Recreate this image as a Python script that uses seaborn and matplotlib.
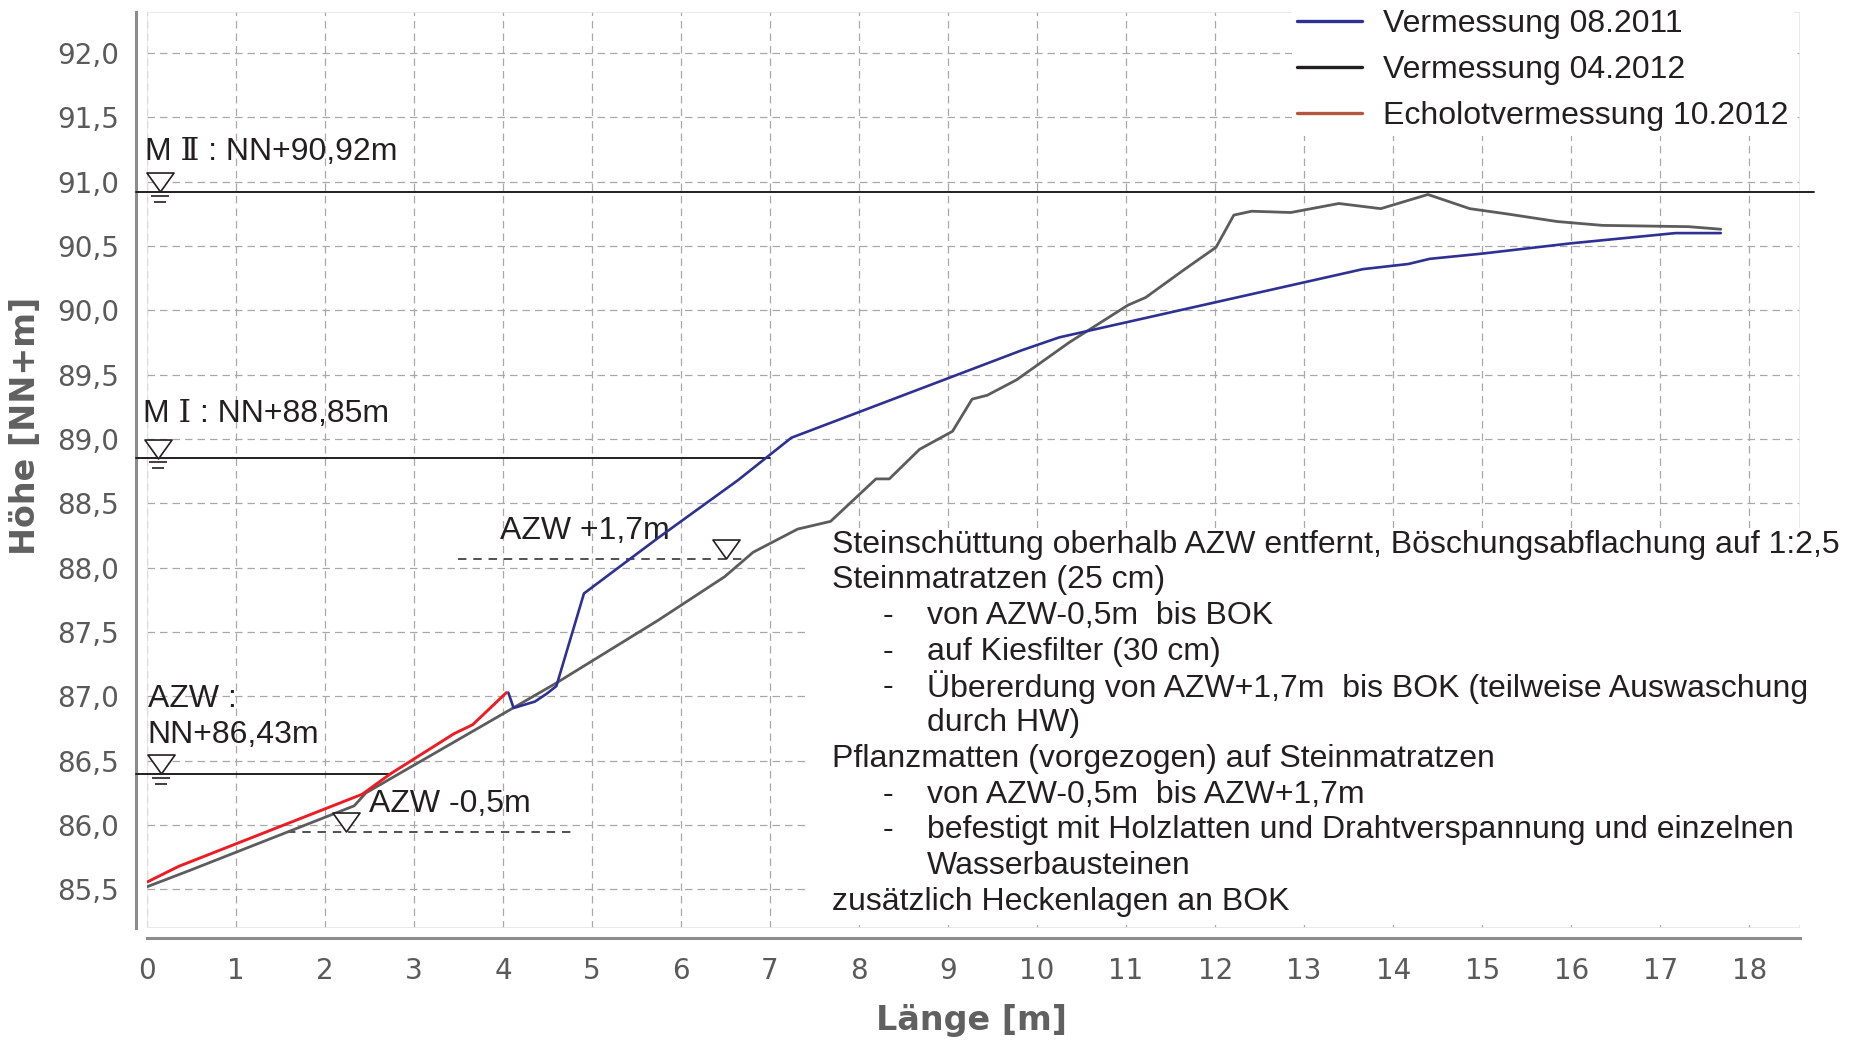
import pandas as pd
import matplotlib
matplotlib.use('Agg')
import matplotlib.pyplot as plt
import seaborn as sns
from matplotlib.lines import Line2D
from matplotlib.path import Path
from matplotlib.patches import Rectangle
from matplotlib.transforms import offset_copy
from matplotlib.ticker import FuncFormatter, MultipleLocator

# --- Daten: Querprofil ---
laenge_2012 = [0.0, 0.49, 2.33, 2.46, 4.59, 5.74, 6.49, 6.81, 7.31, 7.68, 8.19, 8.34, 8.68,
               9.05, 9.27, 9.44, 9.77, 10.36, 11.02, 11.22, 11.66, 12.01, 12.21, 12.41,
               12.85, 13.39, 13.86, 14.39, 14.86, 15.27, 15.84, 16.35, 17.32, 17.68]
hoehe_2012 = [85.52, 85.65, 86.15, 86.25, 87.10, 87.59, 87.93, 88.12, 88.30, 88.36, 88.69, 88.69,
              88.92, 89.06, 89.31, 89.34, 89.46, 89.75, 90.04, 90.10, 90.32, 90.49, 90.74, 90.77,
              90.76, 90.83, 90.79, 90.90, 90.79, 90.75, 90.69, 90.66, 90.65, 90.63]

laenge_2011 = [4.06, 4.12, 4.36, 4.49, 4.60, 4.91, 5.74, 6.64, 7.24, 9.83, 10.25, 13.66, 14.17,
               14.41, 14.99, 15.99, 17.17, 17.68]
hoehe_2011 = [87.03, 86.91, 86.96, 87.02, 87.08, 87.80, 88.23, 88.68, 89.01, 89.69, 89.79, 90.32,
              90.36, 90.40, 90.44, 90.52, 90.60, 90.60]

laenge_echolot = [0.01, 0.36, 2.42, 2.74, 3.45, 3.66, 4.04]
hoehe_echolot = [85.56, 85.68, 86.24, 86.40, 86.71, 86.78, 87.03]

# Wasserspiegel (durchgezogen, mit Symbol und Unterstrichen)
wsp_hoehe = [90.92, 88.85, 86.40]
wsp_bis = [18.73, 7.0, 2.74]
wsp_symbol_x = [0.15, 0.13, 0.16]

# AZW-Hilfslinien (gestrichelt)
azw_hoehe = [85.95, 88.07]
azw_von = [1.58, 3.50]
azw_bis = [4.82, 6.69]
azw_symbol_x = [2.24, 6.51]

legende_namen = ['Vermessung 08.2011', 'Vermessung 04.2012', 'Echolotvermessung 10.2012']
legende_farben = ['#2e3192', '#231f20', '#b5553f']

beschreibung = [
    (0, 'Steinschüttung oberhalb AZW entfernt, Böschungsabflachung auf 1:2,5'),
    (0, 'Steinmatratzen (25 cm)'),
    (1, 'von AZW-0,5m  bis BOK'),
    (1, 'auf Kiesfilter (30 cm)'),
    (1, 'Übererdung von AZW+1,7m  bis BOK (teilweise Auswaschung'),
    (2, 'durch HW)'),
    (0, 'Pflanzmatten (vorgezogen) auf Steinmatratzen'),
    (1, 'von AZW-0,5m  bis AZW+1,7m'),
    (1, 'befestigt mit Holzlatten und Drahtverspannung und einzelnen'),
    (2, 'Wasserbausteinen'),
    (0, 'zusätzlich Heckenlagen an BOK'),
]

df_2012 = pd.DataFrame({'Laenge': laenge_2012, 'Hoehe': hoehe_2012})
df_2011 = pd.DataFrame({'Laenge': laenge_2011, 'Hoehe': hoehe_2011})
df_echo = pd.DataFrame({'Laenge': laenge_echolot, 'Hoehe': hoehe_echolot})

sns.set_style('white')
# Roemische Ziffern (Ⅰ, Ⅱ) fehlen in Liberation Sans -> DejaVu Serif
plt.rcParams['font.family'] = ['Liberation Sans', 'DejaVu Serif']

TXT = '#231f20'
GRAU = '#8c8c8c'
TXT_GR = 23

fig = plt.figure(figsize=(18.54, 10.49), dpi=100)
ax = fig.add_axes([0.0792, 0.1153, 0.8917, 0.8735])

# Linien der Vermessungen
sns.lineplot(data=df_2012, x='Laenge', y='Hoehe', sort=False, estimator=None,
             color='#5c5c5c', linewidth=2.0, ax=ax, zorder=4)
sns.lineplot(data=df_2011, x='Laenge', y='Hoehe', sort=False, estimator=None,
             color='#2e3192', linewidth=1.9, ax=ax, zorder=5)
sns.lineplot(data=df_echo, x='Laenge', y='Hoehe', sort=False, estimator=None,
             color='#ed1c24', linewidth=2.1, ax=ax, zorder=5)

ax.set_xlim(0, 18.57)
ax.set_ylim(85.2, 92.32)
ax.xaxis.set_major_locator(MultipleLocator(1))
ax.yaxis.set_major_locator(MultipleLocator(0.5))
ax.yaxis.set_major_formatter(FuncFormatter(lambda v, p: f'{v:.1f}'.replace('.', ',')))

ax.set_axisbelow(True)
ax.grid(True, color='#a8a8a8', linewidth=0.9, linestyle=(0, (6, 4)))

# Spines wie im Original: links/unten grau und abgesetzt, Rahmen sehr hell
sns.despine(ax=ax, offset={'left': 8, 'bottom': 7})
for s in ['left', 'bottom']:
    ax.spines[s].set_color(GRAU)
    ax.spines[s].set_linewidth(2.2)
ax.add_patch(Rectangle((0, 0), 1, 1, transform=ax.transAxes, fill=False,
                       edgecolor='#e6e6e6', linewidth=1.2, zorder=0.6))

ax.tick_params(axis='both', direction='out', length=4, width=1.6, color=GRAU,
               labelcolor='#5a5a5a', labelsize=20)
ax.tick_params(axis='x', pad=10)
ax.tick_params(axis='y', pad=8)
for lab in ax.get_xticklabels() + ax.get_yticklabels():
    lab.set_fontfamily('DejaVu Sans')

ax.set_xlabel('Länge [m]', fontsize=24, fontweight='bold', color='#606060', family='DejaVu Sans')
ax.set_ylabel('Höhe [NN+m]', fontsize=24, fontweight='bold', color='#606060', family='DejaVu Sans')
ax.xaxis.label.set_va('center')
ax.yaxis.label.set_va('center')
ax.xaxis.set_label_coords(0.499, -0.101)
ax.yaxis.set_label_coords(-0.0734, 0.548)

# Wasserspiegel-Symbol
dreieck = Path([(-0.5, 0.35), (0.5, 0.35), (0.0, -0.35), (-0.5, 0.35)],
               [Path.MOVETO, Path.LINETO, Path.LINETO, Path.CLOSEPOLY])
tr_dreieck = offset_copy(ax.transData, fig=fig, x=0, y=6.8, units='points')
tr_strich1 = offset_copy(ax.transData, fig=fig, x=0, y=-3.0, units='points')
tr_strich2 = offset_copy(ax.transData, fig=fig, x=0, y=-7.3, units='points')


def symbol(x, y, unterstrich):
    ax.plot([x], [y], marker=dreieck, markersize=19.5, markerfacecolor='white',
            markeredgecolor=TXT, markeredgewidth=1.2, linestyle='none',
            transform=tr_dreieck, clip_on=False, zorder=7)
    if unterstrich:
        ax.plot([x], [y], marker='_', markersize=13.5, markeredgewidth=1.2, color=TXT,
                transform=tr_strich1, clip_on=False, zorder=7)
        ax.plot([x], [y], marker='_', markersize=8, markeredgewidth=1.2, color=TXT,
                transform=tr_strich2, clip_on=False, zorder=7)


for h, bis, sx in zip(wsp_hoehe, wsp_bis, wsp_symbol_x):
    ax.plot([-0.12, bis], [h, h], color=TXT, linewidth=1.4, clip_on=False, zorder=3)
    symbol(sx, h, True)

for h, von, bis, sx in zip(azw_hoehe, azw_von, azw_bis, azw_symbol_x):
    ax.plot([von, bis], [h, h], color=TXT, linewidth=1.1, linestyle=(0, (5.5, 4.5)), zorder=3)
    symbol(sx, h, False)

# Beschriftungen der Wasserspiegel
ax.text(-0.02, 91.17, 'M Ⅱ : NN+90,92m', fontsize=TXT_GR, color=TXT, va='baseline')
ax.text(-0.04, 89.13, 'M Ⅰ : NN+88,85m', fontsize=TXT_GR, color=TXT, va='baseline')
ax.text(0.01, 86.92, 'AZW :', fontsize=TXT_GR, color=TXT, va='baseline')
ax.text(0.01, 86.64, 'NN+86,43m', fontsize=TXT_GR, color=TXT, va='baseline')
ax.text(2.49, 86.10, 'AZW -0,5m', fontsize=TXT_GR, color=TXT, va='baseline')
ax.text(3.97, 88.22, 'AZW +1,7m', fontsize=TXT_GR, color=TXT, va='baseline')

# weisser Hintergrund hinter dem Textblock
ax.add_patch(Rectangle((7.42, 85.22), 11.2, 88.31 - 85.22, facecolor='white',
                       edgecolor='none', zorder=1.5))
y0, dy = 88.18, 0.2775
for i, (einzug, zeile) in enumerate(beschreibung):
    y = y0 - i * dy
    if einzug == 0:
        ax.text(7.70, y, zeile, fontsize=TXT_GR, color=TXT, va='center', zorder=6)
    else:
        if einzug == 1:
            ax.text(8.27, y, '-', fontsize=TXT_GR, color=TXT, va='center', zorder=6)
        ax.text(8.76, y, zeile, fontsize=TXT_GR, color=TXT, va='center', zorder=6)

# Legende
griffe = [Line2D([], [], color=c, linewidth=2.4) for c in legende_farben]
leg = fig.legend(griffe, legende_namen, loc='upper left', bbox_to_anchor=(0.697, 0.996),
                 fontsize=23, frameon=True, fancybox=False, borderpad=0.15, borderaxespad=0,
                 handlelength=2.03, handletextpad=0.67, labelspacing=0.5)
leg.get_frame().set_facecolor('white')
leg.get_frame().set_edgecolor('none')
leg.get_frame().set_alpha(1)
for t in leg.get_texts():
    t.set_color(TXT)

fig.savefig('out.png', dpi=100)
